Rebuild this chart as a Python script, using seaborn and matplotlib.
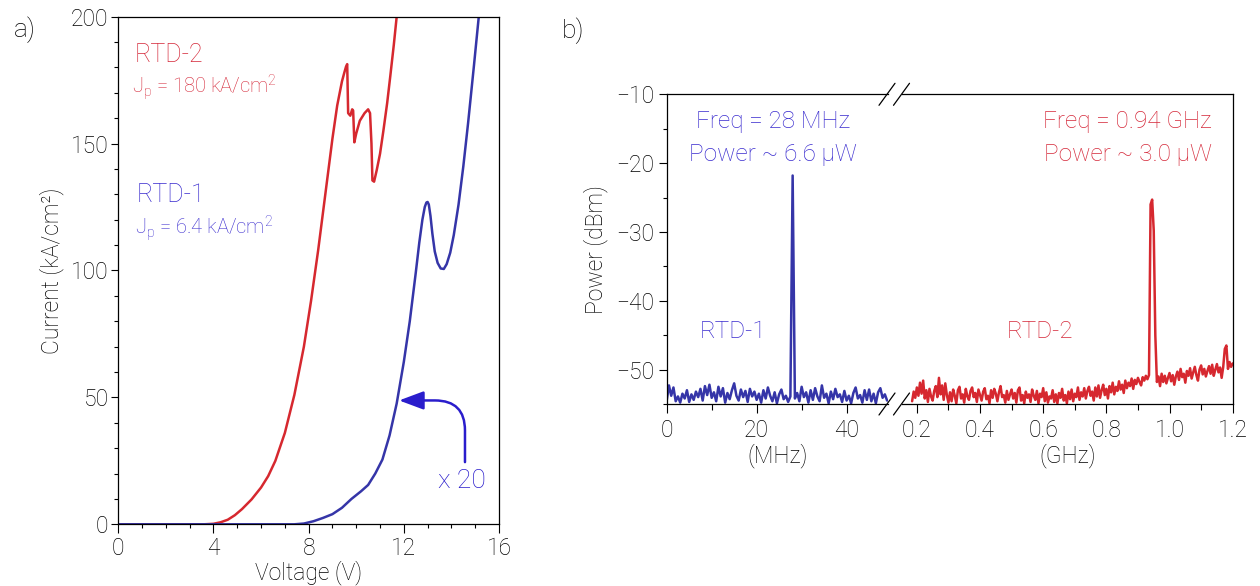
import numpy as np
import matplotlib
matplotlib.use('Agg')
import matplotlib.pyplot as plt
from matplotlib.lines import Line2D
from matplotlib.ticker import MultipleLocator
import seaborn as sns

# ---- panel a) I-V curves (read off the figure) ----
rtd2_v = [0, 3.6, 4.0, 4.3, 4.6, 4.9, 5.2, 5.6, 6.0, 6.3, 6.6, 7.0, 7.4, 7.8, 8.1,
          8.4, 8.7, 9.0, 9.2, 9.4, 9.5, 9.57, 9.62, 9.66, 9.75, 9.83, 9.87, 9.92, 10.0,
          10.15, 10.35, 10.5, 10.58, 10.64, 10.68, 10.75, 10.86, 11.0, 11.14, 11.3,
          11.43, 11.58, 11.7]
rtd2_j = [0, 0, 0.2, 0.8, 1.8, 3.6, 6.0, 9.8, 14.5, 19.0, 25.0, 36.0, 51.0, 70.0, 88.0,
          108.0, 130.0, 152.0, 165.0, 174.5, 178.0, 180.3, 181.3, 162.0, 161.0, 163.5,
          163.0, 150.5, 154.0, 159.0, 162.0, 163.5, 162.0, 150.0, 135.5, 135.0, 139.5,
          146.0, 155.0, 166.0, 176.5, 189.0, 200.0]

rtd1_v = [0, 7.4, 7.8, 8.2, 8.6, 9.0, 9.4, 9.8, 10.2, 10.5, 10.8, 11.1, 11.4, 11.7,
          12.0, 12.25, 12.5, 12.65, 12.78, 12.88, 12.95, 13.0, 13.05, 13.12, 13.2,
          13.3, 13.42, 13.55, 13.68, 13.8, 13.95, 14.1, 14.3, 14.5, 14.7, 14.95, 15.15]
rtd1_j = [0, 0, 0.3, 1.2, 2.5, 4.0, 6.5, 10.0, 13.0, 15.5, 20.0, 25.5, 35.0, 47.6,
          64.0, 80.0, 99.0, 111.0, 120.0, 125.0, 126.8, 127.0, 126.0, 121.5, 114.5,
          107.5, 103.0, 100.8, 100.6, 102.5, 107.0, 114.0, 126.0, 141.0, 158.0, 181.0,
          200.0]

# ---- panel b) spectra ----
mhz_start, mhz_stop = 0.0, 49.0          # analyzer sweep, 0.5 MHz points
rtd1_dbm = [-54.5, -52.3, -53.8, -52.6, -54.6, -53.9, -54.8, -53.5, -54.2, -53.0,
            -54.7, -53.6, -54.4, -53.2, -54.0, -52.8, -54.5, -52.4, -53.7, -52.2,
            -54.1, -53.3, -54.6, -52.5, -53.9, -52.7, -54.8, -53.4, -54.3, -53.0,
            -52.0, -53.8, -54.5, -52.9, -54.0, -53.1, -54.7, -52.8, -53.9, -53.2,
            -54.4, -53.5, -54.8, -53.0, -54.2, -52.6, -53.8, -54.6, -53.3, -54.9,
            -53.6, -52.9, -54.3, -53.8, -54.7, -53.9, -21.8, -54.2, -53.4, -54.6,
            -52.5, -54.0, -53.3, -54.8, -53.0, -54.4, -52.7, -53.9, -54.6, -52.3,
            -54.1, -53.5, -54.9, -53.2, -54.3, -52.8, -54.0, -53.6, -54.7, -53.1,
            -54.5, -53.8, -54.9, -53.4, -52.6, -54.2, -53.7, -54.8, -53.0, -54.4,
            -52.9, -54.6, -53.5, -54.9, -53.3, -52.7, -54.1, -53.6, -54.5]

ghz_start, ghz_stop = 0.185, 1.2         # 5 MHz points
rtd2_dbm = [
    -54.6, -53.2, -54.1, -52.6, -53.8, -51.9, -53.5, -51.6, -54.2, -53.0,
    -54.7, -52.8, -53.9, -54.5, -53.1, -52.4, -54.0, -51.2, -53.6, -52.3,
    -54.4, -52.0, -53.7, -54.8,
    -53.3, -54.6, -52.9, -53.8, -54.9, -53.0, -52.5, -54.2, -53.6, -54.8,
    -52.8, -53.9, -54.4, -53.1, -52.6, -54.0, -53.4, -54.7, -52.9, -53.7,
    -54.5, -53.2, -52.7, -54.3, -53.8, -54.9, -53.0, -54.1, -52.8, -53.5,
    -54.6, -53.3, -52.4, -54.0, -53.7, -54.8, -53.1, -54.4, -53.6, -52.9,
    -54.2, -53.4, -54.8, -53.0, -52.6, -54.5, -53.7, -54.9, -53.2, -54.1,
    -53.6, -54.7, -52.9, -53.8, -54.4, -53.1, -54.9, -53.5, -54.0, -52.7,
    -54.6, -53.3, -54.8, -53.9, -54.2, -53.0, -54.7, -53.6, -54.9, -53.4,
    -54.1, -52.8, -54.5, -53.7, -54.9, -53.2, -54.3, -52.9, -54.6, -53.5,
    -54.0, -52.6, -54.4, -53.3, -53.9, -52.7, -54.2, -53.1, -52.5, -53.8,
    -53.2, -54.5, -52.6, -53.9, -52.3, -54.1, -53.0, -52.2, -53.7, -52.8,
    -54.2, -52.4, -53.3, -51.9, -53.6, -52.5, -53.1, -51.7, -52.9, -52.2,
    -53.4, -51.6, -52.7, -51.9, -52.4, -51.3, -52.8, -51.5, -52.1, -51.2,
    -51.8, -52.3, -51.1, -51.6, -50.9, -51.4,
    -50.8, -26.0, -25.3, -29.8, -45.0, -51.8,
    -51.0, -52.4, -50.6, -51.8, -50.9, -52.0, -51.2, -50.5, -51.7, -50.8,
    -52.2, -51.0, -50.3, -51.5, -49.9, -51.1, -50.6, -51.9, -50.2, -50.9,
    -49.8, -51.3, -50.4, -49.6, -50.8, -51.6, -50.0, -49.4, -50.7, -49.9,
    -51.0, -50.2, -49.5, -50.6, -49.3, -50.9, -50.0, -49.2, -50.4, -49.7,
    -51.2, -49.6, -47.0, -46.5, -49.9, -48.9, -49.6, -49.1]

mhz = np.linspace(mhz_start, mhz_stop, len(rtd1_dbm))
ghz = np.linspace(ghz_start, ghz_stop, len(rtd2_dbm))

RED = '#d6282f'
RED_TXT = '#d5293a'
BLUE = '#3535a8'
BLUE_TXT = '#3a2ccf'
ARROW = '#2a1dcc'

sns.set_theme(style='ticks')
plt.rcParams['font.family'] = ['Roboto', 'DejaVu Sans']
plt.rcParams['font.weight'] = 'light'
plt.rcParams['axes.labelweight'] = 'light'
plt.rcParams['axes.labelcolor'] = 'black'
plt.rcParams['text.color'] = 'black'
plt.rcParams['mathtext.fontset'] = 'custom'
plt.rcParams['mathtext.rm'] = 'Roboto:light'
plt.rcParams['axes.edgecolor'] = 'black'
plt.rcParams['axes.linewidth'] = 0.9

W, H = 1260, 586
fig = plt.figure(figsize=(W / 100, H / 100), dpi=100)


def px(x, y):
    return x / W, 1 - y / H


ax_a = fig.add_axes([118.3 / W, 1 - 524.3 / H, 380.7 / W, 507.6 / H])
ax_m = fig.add_axes([666.7 / W, 1 - 404 / H, 221.3 / W, 309.7 / H])
ax_g = fig.add_axes([902 / W, 1 - 404 / H, 330.7 / W, 309.7 / H])

for ax in (ax_a, ax_m, ax_g):
    ax.set_facecolor('white')
    for s in ax.spines.values():
        s.set_color('black')
        s.set_linewidth(0.9)
    ax.tick_params(which='both', direction='out', color='black', width=0.8,
                   labelsize=16.5, labelcolor='black', top=False, right=False)
    ax.tick_params(which='major', length=5)
    ax.tick_params(which='minor', length=3)

# ---- a) ----
sns.lineplot(x=rtd2_v, y=rtd2_j, ax=ax_a, color=RED, lw=1.8, sort=False, estimator=None)
sns.lineplot(x=rtd1_v, y=rtd1_j, ax=ax_a, color=BLUE, lw=1.8, sort=False, estimator=None)
ax_a.set_xlim(0, 16)
ax_a.set_ylim(0, 200)
ax_a.xaxis.set_major_locator(MultipleLocator(4))
ax_a.xaxis.set_minor_locator(MultipleLocator(1))
ax_a.yaxis.set_major_locator(MultipleLocator(50))
ax_a.yaxis.set_minor_locator(MultipleLocator(10))
ax_a.tick_params(axis='x', which='major', length=6.5, pad=3)
ax_a.tick_params(axis='y', pad=2)
ax_a.set_xlabel('Voltage (V)', fontsize=16.5, labelpad=0, color='black')
ax_a.set_ylabel('Current (kA/cm²)', fontsize=16.5, labelpad=5, color='black')

ax_a.text(0.7, 185, 'RTD-2', color=RED_TXT, fontsize=18, ha='left', va='center')
ax_a.text(0.58, 172.3, r'J$_\mathregular{p}$ = 180 kA/cm$^\mathregular{2}$', color=RED_TXT,
          fontsize=14.5, ha='left', va='center')
ax_a.text(0.79, 129.7, 'RTD-1', color=BLUE_TXT, fontsize=18, ha='left', va='center')
ax_a.text(0.7, 116.7, r'J$_\mathregular{p}$ = 6.4 kA/cm$^\mathregular{2}$', color=BLUE_TXT,
          fontsize=14.5, ha='left', va='center')
ax_a.text(14.46, 17.1, 'x 20', color=ARROW, fontsize=19, ha='center', va='center')
ax_a.annotate('', xy=(11.8, 48.8), xytext=(14.57, 24.5),
              arrowprops=dict(arrowstyle='-|>,head_length=0.75,head_width=0.28',
                              mutation_scale=20, color=ARROW, lw=1.8,
                              connectionstyle='angle,angleA=90,angleB=0,rad=30',
                              shrinkA=0, shrinkB=0))

# ---- b) ----
sns.lineplot(x=mhz, y=rtd1_dbm, ax=ax_m, color=BLUE, lw=1.8, sort=False, estimator=None)
sns.lineplot(x=ghz, y=rtd2_dbm, ax=ax_g, color=RED, lw=1.8, sort=False, estimator=None)
for ax in (ax_m, ax_g):
    ax.set_ylim(-55, -10)
ax_m.set_xlim(0, 49.2)
ax_g.set_xlim(0.153, 1.2)
ax_m.spines['right'].set_visible(False)
ax_g.spines['left'].set_visible(False)
ax_g.tick_params(axis='y', which='both', left=False, labelleft=False)
ax_m.yaxis.set_major_locator(MultipleLocator(10))
ax_m.yaxis.set_minor_locator(MultipleLocator(5))
ax_m.xaxis.set_major_locator(MultipleLocator(20))
ax_m.xaxis.set_minor_locator(MultipleLocator(10))
ax_g.xaxis.set_major_locator(MultipleLocator(0.2))
ax_g.xaxis.set_minor_locator(MultipleLocator(0.1))
ax_g.xaxis.set_major_formatter(plt.FuncFormatter(lambda v, p: f'{v:.1f}'))
for ax in (ax_m, ax_g):
    ax.tick_params(axis='x', which='major', length=6.5, pad=4)
    ax.tick_params(axis='x', which='minor', length=4.5)
ax_m.tick_params(axis='y', which='major', length=6, pad=3)
ax_m.set_ylabel('Power (dBm)', fontsize=16.5, labelpad=6, color='black')
ax_m.set_xlabel('(MHz)', fontsize=16.5, labelpad=1, color='black')
ax_g.set_xlabel('(GHz)', fontsize=16.5, labelpad=1, color='black')

ax_m.text(23.6, -13.9, 'Freq = 28 MHz', color=BLUE_TXT, fontsize=17.5, ha='center', va='center')
ax_m.text(23.6, -18.7, 'Power ~ 6.6 µW', color=BLUE_TXT, fontsize=17.5, ha='center', va='center')
ax_m.text(14.7, -44.5, 'RTD-1', color=BLUE_TXT, fontsize=17.5, ha='center', va='center')
ax_g.text(0.866, -13.9, 'Freq = 0.94 GHz', color=RED_TXT, fontsize=17.5, ha='center', va='center')
ax_g.text(0.868, -18.7, 'Power ~ 3.0 µW', color=RED_TXT, fontsize=17.5, ha='center', va='center')
ax_g.text(0.59, -44.5, 'RTD-2', color=RED_TXT, fontsize=17.5, ha='center', va='center')

# axis break marks
for cy in (94.3, 404):
    for cx in (887, 901.5):
        x0, y0 = px(cx - 8, cy + 11)
        x1, y1 = px(cx + 8, cy - 11)
        fig.add_artist(Line2D([x0, x1], [y0, y1], transform=fig.transFigure,
                              color='black', lw=0.9))

fig.text(*px(25, 30), 'a)', fontsize=19, ha='center', va='center', color='black')
fig.text(*px(573, 31), 'b)', fontsize=19, ha='center', va='center', color='black')

fig.savefig('out.png', dpi=100, facecolor='white')
